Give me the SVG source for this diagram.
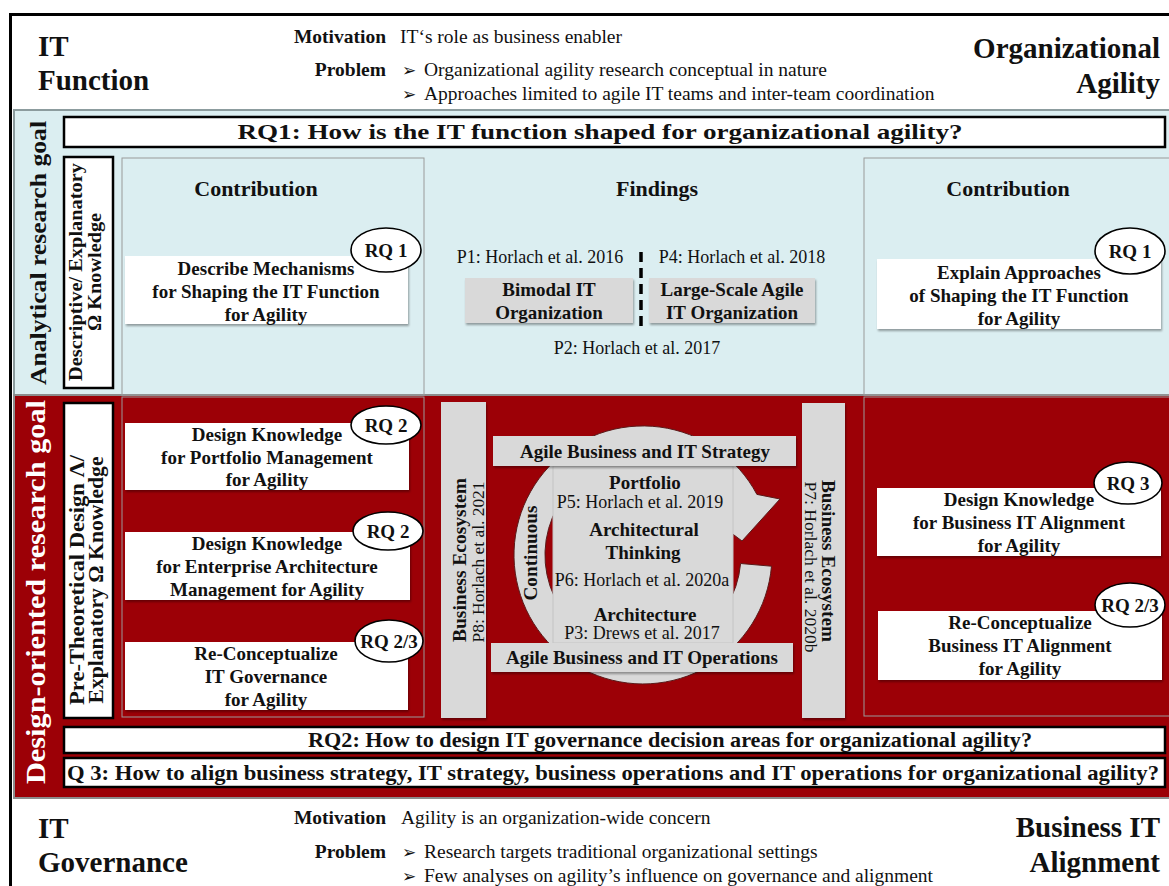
<svg xmlns="http://www.w3.org/2000/svg" width="1169" height="886" viewBox="0 0 1169 886">
  <defs>
    <filter id="shadow" x="-5%" y="-10%" width="115%" height="130%">
      <feDropShadow dx="1" dy="2" stdDeviation="1.2" flood-color="#000" flood-opacity="0.35"/>
    </filter>
    <style>
      text { font-family: "Liberation Serif", "Times New Roman", serif; fill: #111; }
      .b { font-weight: bold; }
      .c { text-anchor: middle; }
      .e { text-anchor: end; }
      .hd { font-size: 29px; font-weight: bold; }
      .lbl { font-size: 19.5px; font-weight: bold; }
      .body { font-size: 19.5px; }
      .bul { font-family: "DejaVu Sans", sans-serif; font-size: 17px; }
      .rq { font-size: 22px; font-weight: bold; }
      .head { font-size: 22px; font-weight: bold; text-anchor: middle; }
      .box { fill: #ffffff; filter: url(#shadow); }
      .gbox { fill: #d9d9d9; filter: url(#shadow); }
      .bt { font-size: 19px; font-weight: bold; text-anchor: middle; }
      .ref { font-size: 18px; text-anchor: middle; }
      .ell { fill: #ffffff; stroke: #000; stroke-width: 1.6; }
      .et { font-size: 19px; font-weight: bold; text-anchor: middle; }
      .col { fill: none; stroke: #9a9a9a; stroke-width: 1; }
      .qbar { fill: #ffffff; stroke: #000; stroke-width: 2.5; }
    </style>
  </defs>

  <!-- page background and frame -->
  <rect x="0" y="0" width="1169" height="886" fill="#ffffff"/>
  <rect x="10.5" y="14.5" width="1175" height="890" fill="none" stroke="#000" stroke-width="3"/>

  <!-- bands -->
  <g id="bands">
    <rect x="14" y="110" width="1160" height="285" fill="#dbeef1" stroke="#8c9c9e" stroke-width="2"/>
    <rect x="14" y="395" width="1160" height="403" fill="#9c0006" stroke="#8c8c8c" stroke-width="2"/>
    <rect x="122" y="158" width="302" height="237" class="col"/>
    <rect x="864" y="158" width="310" height="237" class="col"/>
    <rect x="122" y="397" width="302" height="320" class="col"/>
    <rect x="864" y="397" width="310" height="319" class="col"/>
  </g>

  <!-- header -->
  <g id="header-top">
    <text class="hd" x="38" y="56">IT</text>
    <text class="hd" x="38" y="90">Function</text>
    <text class="hd e" x="1160" y="58">Organizational</text>
    <text class="hd e" x="1160" y="93">Agility</text>
    <text class="lbl e" x="386" y="43">Motivation</text>
    <text class="body" x="400" y="43">IT‘s role as business enabler</text>
    <text class="lbl e" x="386" y="76">Problem</text>
    <text class="body" y="76"><tspan class="bul" x="402">➢</tspan><tspan x="424">Organizational agility research conceptual in nature</tspan></text>
    <text class="body" y="100"><tspan class="bul" x="402">➢</tspan><tspan x="424">Approaches limited to agile IT teams and inter-team coordination</tspan></text>
  </g>

  <g id="header-bottom">
    <text class="hd" x="38" y="838">IT</text>
    <text class="hd" x="38" y="872">Governance</text>
    <text class="hd e" x="1160" y="837">Business IT</text>
    <text class="hd e" x="1160" y="872">Alignment</text>
    <text class="lbl e" x="386" y="824">Motivation</text>
    <text class="body" x="401" y="824">Agility is an organization-wide concern</text>
    <text class="lbl e" x="386" y="858">Problem</text>
    <text class="body" y="858"><tspan class="bul" x="402">➢</tspan><tspan x="424">Research targets traditional organizational settings</tspan></text>
    <text class="body" y="882"><tspan class="bul" x="402">➢</tspan><tspan x="424">Few analyses on agility’s influence on governance and alignment</tspan></text>
  </g>

  <!-- goal labels -->
  <g id="goal-analytical">
    <text class="b c" font-size="24" textLength="264" lengthAdjust="spacingAndGlyphs" transform="translate(46,253) rotate(-90)">Analytical research goal</text>
  </g>
  <g id="goal-design">
    <text class="b c" font-size="28" textLength="384" lengthAdjust="spacingAndGlyphs" style="fill:#ffffff" transform="translate(45,592) rotate(-90)">Design-oriented research goal</text>
  </g>

  <g id="knowledge-descriptive">
    <rect x="64" y="157" width="49" height="231" fill="#ffffff" stroke="#000" stroke-width="2.5"/>
    <text class="b c" font-size="19" textLength="218" lengthAdjust="spacingAndGlyphs" transform="translate(82,272) rotate(-90)">Descriptive/ Explanatory</text>
    <text class="b c" font-size="19" textLength="118" lengthAdjust="spacingAndGlyphs" transform="translate(101,272) rotate(-90)">Ω Knowledge</text>
  </g>
  <g id="knowledge-design">
    <rect x="64" y="403" width="49" height="315" fill="#ffffff" stroke="#000" stroke-width="2.5"/>
    <text class="b c" font-size="20" textLength="250" lengthAdjust="spacingAndGlyphs" transform="translate(84,580) rotate(-90)">Pre-Theoretical Design Λ/</text>
    <text class="b c" font-size="20" textLength="247" lengthAdjust="spacingAndGlyphs" transform="translate(103,580) rotate(-90)">Explanatory Ω Knowledge</text>
  </g>

  <!-- research questions -->
  <g id="rq1">
    <rect x="64" y="117" width="1101" height="30" class="qbar"/>
    <text class="rq c" font-size="23" x="600" y="139" textLength="725" lengthAdjust="spacingAndGlyphs">RQ1: How is the IT function shaped for organizational agility?</text>
  </g>
  <g id="rq2">
    <rect x="64" y="727" width="1101" height="26" class="qbar"/>
    <text class="rq c" x="670" y="747" textLength="724" lengthAdjust="spacingAndGlyphs">RQ2: How to design IT governance decision areas for organizational agility?</text>
  </g>
  <g id="rq3">
    <rect x="64" y="758" width="1101" height="29" class="qbar"/>
    <text class="rq" x="67" y="780" textLength="1092" lengthAdjust="spacingAndGlyphs">Q 3: How to align business strategy, IT strategy, business operations and IT operations for organizational agility?</text>
  </g>

  <!-- analytical row -->
  <text class="head" x="256" y="196">Contribution</text>
  <text class="head" x="657" y="196">Findings</text>
  <text class="head" x="1008" y="196">Contribution</text>

  <g id="describe-mechanisms">
    <rect x="125" y="256" width="283" height="68" class="box"/>
    <text class="bt" x="266" y="275">Describe Mechanisms</text>
    <text class="bt" x="266" y="298">for Shaping the IT Function</text>
    <text class="bt" x="266" y="321">for Agility</text>
    <ellipse cx="386" cy="250" rx="35" ry="22" class="ell"/>
    <text class="et" x="386" y="257">RQ 1</text>
  </g>

  <g id="explain-approaches">
    <rect x="877" y="259" width="284" height="70" class="box"/>
    <text class="bt" x="1019" y="279">Explain Approaches</text>
    <text class="bt" x="1019" y="302">of Shaping the IT Function</text>
    <text class="bt" x="1019" y="325">for Agility</text>
    <ellipse cx="1130" cy="251" rx="35" ry="23" class="ell"/>
    <text class="et" x="1130" y="258">RQ 1</text>
  </g>

  <g id="bimodal-it">
    <text class="ref" x="540" y="263">P1: Horlach et al. 2016</text>
    <rect x="465" y="278" width="168" height="45" class="gbox"/>
    <text class="bt" x="549" y="296">Bimodal IT</text>
    <text class="bt" x="549" y="319">Organization</text>
  </g>
  <g id="large-scale-agile">
    <text class="ref" x="742" y="263">P4: Horlach et al. 2018</text>
    <rect x="649" y="278" width="166" height="45" class="gbox"/>
    <text class="bt" x="732" y="296">Large-Scale Agile</text>
    <text class="bt" x="732" y="319">IT Organization</text>
  </g>
  <text class="ref" x="637" y="354">P2: Horlach et al. 2017</text>

  <!-- design row: left contributions -->
  <g id="portfolio-management">
    <rect x="125" y="423" width="284" height="67" class="box"/>
    <text class="bt" x="267" y="441">Design Knowledge</text>
    <text class="bt" x="267" y="464">for Portfolio Management</text>
    <text class="bt" x="267" y="486">for Agility</text>
    <ellipse cx="386" cy="425" rx="35" ry="19" class="ell"/>
    <text class="et" x="386" y="432">RQ 2</text>
  </g>
  <g id="ea-management">
    <rect x="125" y="532" width="285" height="68" class="box"/>
    <text class="bt" x="267" y="550">Design Knowledge</text>
    <text class="bt" x="267" y="573">for Enterprise Architecture</text>
    <text class="bt" x="267" y="596">Management for Agility</text>
    <ellipse cx="388" cy="531" rx="35" ry="19" class="ell"/>
    <text class="et" x="388" y="538">RQ 2</text>
  </g>
  <g id="it-governance">
    <rect x="125" y="642" width="283" height="68" class="box"/>
    <text class="bt" x="266" y="660">Re-Conceptualize</text>
    <text class="bt" x="266" y="683">IT Governance</text>
    <text class="bt" x="266" y="706">for Agility</text>
    <ellipse cx="389" cy="641" rx="34" ry="21" class="ell"/>
    <text class="et" x="389" y="648">RQ 2/3</text>
  </g>

  <!-- design row: right contributions -->
  <g id="bita-design">
    <rect x="877" y="488" width="284" height="68" class="box"/>
    <text class="bt" x="1019" y="506">Design Knowledge</text>
    <text class="bt" x="1019" y="529">for Business IT Alignment</text>
    <text class="bt" x="1019" y="552">for Agility</text>
    <ellipse cx="1128" cy="483" rx="34" ry="21" class="ell"/>
    <text class="et" x="1128" y="490">RQ 3</text>
  </g>
  <g id="bita-reconceptualize">
    <rect x="878" y="611" width="284" height="69" class="box"/>
    <text class="bt" x="1020" y="629">Re-Conceptualize</text>
    <text class="bt" x="1020" y="652">Business IT Alignment</text>
    <text class="bt" x="1020" y="675">for Agility</text>
    <ellipse cx="1130" cy="605" rx="35" ry="22" class="ell"/>
    <text class="et" x="1130" y="612">RQ 2/3</text>
  </g>

  <!-- design row: findings -->
  <g id="ecosystem-left">
    <rect x="441" y="402" width="45" height="316" class="gbox"/>
    <text class="b c" font-size="19" textLength="164" lengthAdjust="spacingAndGlyphs" transform="translate(466,560) rotate(-90)">Business Ecosystem</text>
    <text class="c" font-size="17.5" textLength="161" lengthAdjust="spacingAndGlyphs" transform="translate(484,562) rotate(-90)">P8: Horlach et al. 2021</text>
  </g>
  <g id="ecosystem-right">
    <rect x="802" y="403" width="43" height="315" class="gbox"/>
    <text class="b c" font-size="19" textLength="162" lengthAdjust="spacingAndGlyphs" transform="translate(822,561) rotate(90)">Business Ecosystem</text>
    <text class="c" font-size="17.5" textLength="171" lengthAdjust="spacingAndGlyphs" transform="translate(805,567) rotate(90)">P7: Horlach et al. 2020b</text>
  </g>

  <g id="continuous-cycle">
    <path d="M 771.5 566.2 A 129 129 0 1 1 756.9 494.4 L 780 499 L 742 541 L 714 520 L 729.5 509 A 98 98 0 1 0 740.6 563.5 Z" fill="#d9d9d9" stroke="#5a1a1a" stroke-width="1"/>
    <text class="b c" font-size="18" textLength="95" lengthAdjust="spacingAndGlyphs" transform="translate(537,553) rotate(-90)">Continuous</text>
  </g>

  <g id="architectural-thinking">
    <rect x="553" y="466" width="180" height="177" fill="#d9d9d9" stroke="#c4c4c4" stroke-width="1"/>
    <text class="bt" x="645" y="489">Portfolio</text>
    <text class="ref" x="640" y="508" font-size="17.5">P5: Horlach et al. 2019</text>
    <text class="bt" x="644" y="536" font-size="20">Architectural</text>
    <text class="bt" x="643" y="559" font-size="20">Thinking</text>
    <text class="ref" x="642" y="586">P6: Horlach et al. 2020a</text>
    <text class="bt" x="645" y="621">Architecture</text>
    <text class="ref" x="642" y="639" font-size="17.5">P3: Drews et al. 2017</text>
  </g>

  <g id="strategy">
    <rect x="493" y="436" width="303" height="30" class="gbox"/>
    <text class="bt" x="645" y="458">Agile Business and IT Strategy</text>
  </g>
  <g id="operations">
    <rect x="491" y="643" width="302" height="29" class="gbox"/>
    <text class="bt" x="642" y="664">Agile Business and IT Operations</text>
  </g>

  <!-- connectors -->
  <g id="connectors">
    <line x1="641" y1="252" x2="641" y2="330" stroke="#000" stroke-width="3.5" stroke-dasharray="10 6"/>
  </g>
</svg>
